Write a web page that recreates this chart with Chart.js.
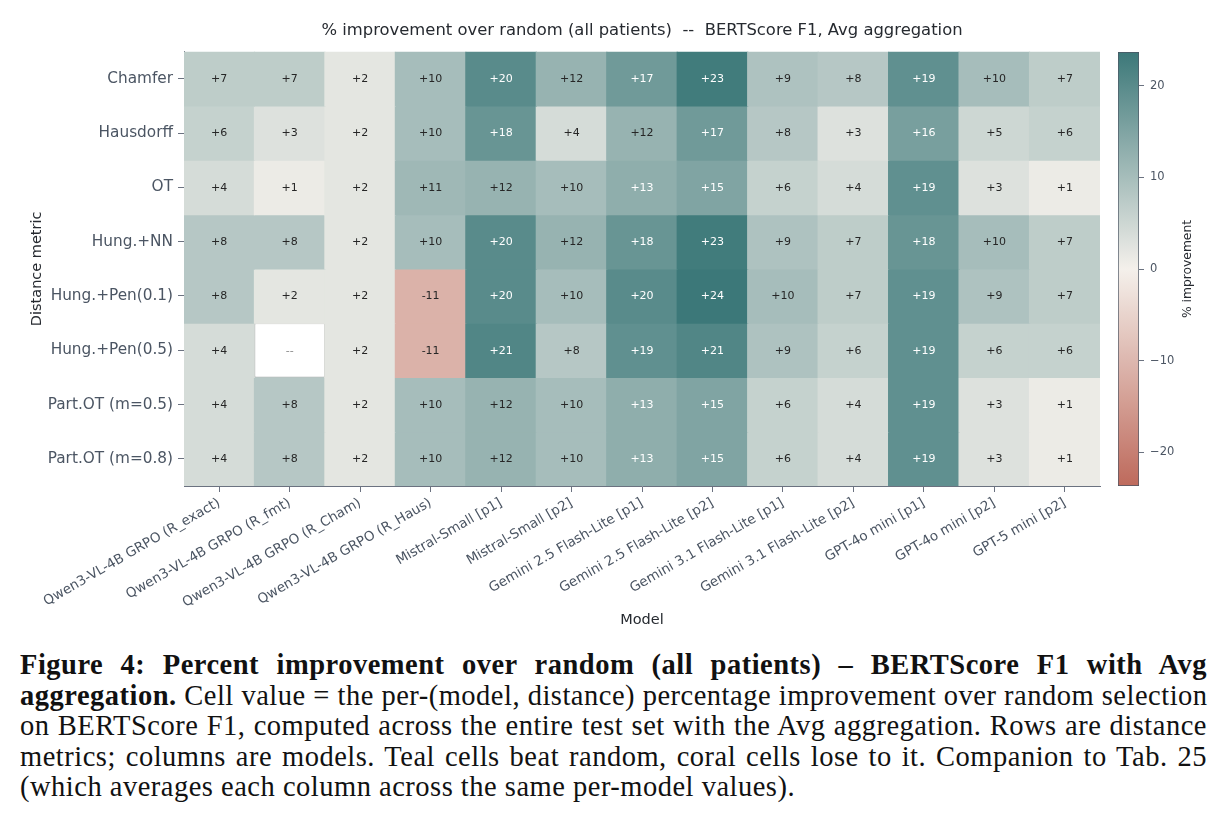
<!DOCTYPE html>
<html>
<head>
<meta charset="utf-8">
<script src="https://cdn.jsdelivr.net/npm/chart.js@4.4.0/dist/chart.umd.min.js"></script>
<style>
html,body{margin:0;padding:0;background:#fff;width:1223px;height:815px;overflow:hidden;}
#wrap{position:relative;width:1223px;height:815px;}
#heat{position:absolute;left:0;top:0;}
#cbar{position:absolute;left:1110px;top:0;}
#cap{position:absolute;left:20px;top:650px;width:1187px;font-family:"Liberation Serif","Times New Roman",serif;font-size:28.5px;letter-spacing:0.5px;line-height:30.5px;color:#111;}
.ln{text-align:justify;text-align-last:justify;white-space:nowrap;}
.last{text-align:left;text-align-last:left;}
</style>
</head>
<body>
<div id="wrap">
<canvas id="heat" width="1110" height="640"></canvas>
<canvas id="cbar" width="113" height="640"></canvas>
<div id="cap">
<div class="ln"><b>Figure 4: Percent improvement over random (all patients) – BERTScore F1 with Avg</b></div>
<div class="ln"><b>aggregation.</b> Cell value = the per-(model, distance) percentage improvement over random selection</div>
<div class="ln">on BERTScore F1, computed across the entire test set with the Avg aggregation. Rows are distance</div>
<div class="ln">metrics; columns are models. Teal cells beat random, coral cells lose to it. Companion to Tab. 25</div>
<div class="ln last">(which averages each column across the same per-model values).</div>
</div>
</div>
<script>
// ---- data ----
const models = [
  "Qwen3-VL-4B GRPO (R_exact)", "Qwen3-VL-4B GRPO (R_fmt)", "Qwen3-VL-4B GRPO (R_Cham)",
  "Qwen3-VL-4B GRPO (R_Haus)", "Mistral-Small [p1]", "Mistral-Small [p2]",
  "Gemini 2.5 Flash-Lite [p1]", "Gemini 2.5 Flash-Lite [p2]", "Gemini 3.1 Flash-Lite [p1]",
  "Gemini 3.1 Flash-Lite [p2]", "GPT-4o mini [p1]", "GPT-4o mini [p2]", "GPT-5 mini [p2]"
];
const metrics = ["Chamfer", "Hausdorff", "OT", "Hung.+NN", "Hung.+Pen(0.1)", "Hung.+Pen(0.5)", "Part.OT (m=0.5)", "Part.OT (m=0.8)"];

const rowChamfer   = [7, 7, 2, 10, 20, 12, 17, 23, 9, 8, 19, 10, 7];
const rowHausdorff = [6, 3, 2, 10, 18, 4, 12, 17, 8, 3, 16, 5, 6];
const rowOT        = [4, 1, 2, 11, 12, 10, 13, 15, 6, 4, 19, 3, 1];
const rowHungNN    = [8, 8, 2, 10, 20, 12, 18, 23, 9, 7, 18, 10, 7];
const rowHungPen01 = [8, 2, 2, -11, 20, 10, 20, 24, 10, 7, 19, 9, 7];
const rowHungPen05 = [4, null, 2, -11, 21, 8, 19, 21, 9, 6, 19, 6, 6];
const rowPartOT05  = [4, 8, 2, 10, 12, 10, 13, 15, 6, 4, 19, 3, 1];
const rowPartOT08  = [4, 8, 2, 10, 12, 10, 13, 15, 6, 4, 19, 3, 1];

const cbarTicks = [-20, -10, 0, 10, 20];
const vLimit = 23.7;

const values = [rowChamfer, rowHausdorff, rowOT, rowHungNN, rowHungPen01, rowHungPen05, rowPartOT05, rowPartOT08];

// ---- colour map ----
const NEG = [190, 106, 92], MID = [244, 240, 235], POS = [60, 120, 121];
function mix(a, b, t) { return a.map((x, i) => Math.round(x + (b[i] - x) * t)); }
function colorFor(v) {
  let t = Math.max(-1, Math.min(1, v / vLimit));
  const c = t >= 0 ? mix(MID, POS, t) : mix(MID, NEG, -t);
  return `rgb(${c[0]},${c[1]},${c[2]})`;
}

Chart.defaults.font.family = '"DejaVu Sans", sans-serif';
const TICK = '#4b5563', SPINE = '#6b7280', DARK = '#262a30';

const cellLabels = {
  id: 'cellLabels',
  afterDatasetsDraw(chart) {
    const ctx = chart.ctx;
    ctx.save();
    ctx.font = '11px "DejaVu Sans"';
    ctx.textAlign = 'center';
    ctx.textBaseline = 'middle';
    values.forEach((row, r) => {
      const meta = chart.getDatasetMeta(r);
      meta.data.forEach((bar, c) => {
        const v = row[c];
        const cy = (bar.y + bar.base) / 2;
        let txt, col;
        if (v === null) { txt = '--'; col = '#8a8a8a'; }
        else { txt = (v > 0 ? '+' : '') + v; col = v >= 13 ? '#ffffff' : '#262626'; }
        ctx.fillStyle = col;
        ctx.fillText(txt, bar.x, cy + 0.5);
      });
    });
    ctx.restore();
  }
};

const datasets = metrics.map((m, r) => ({
  label: m,
  data: values[r].map(() => [r - 0.5, r + 0.5]),
  backgroundColor: values[r].map(v => v === null ? '#ffffff' : colorFor(v)),
  borderColor: values[r].map(v => v === null ? '#bdbdbd' : 'rgba(0,0,0,0)'),
  borderWidth: values[r].map(v => v === null ? 1 : 0),
  inflateAmount: values[r].map(v => v === null ? 0 : 0.6),
  borderSkipped: false,
  grouped: false,
  barPercentage: 1,
  categoryPercentage: 1
}));

new Chart(document.getElementById('heat'), {
  type: 'bar',
  data: { labels: models, datasets },
  plugins: [cellLabels],
  options: {
    responsive: false,
    animation: false,
    layout: { padding: { left: 0, right: 10, top: 0, bottom: 0 } },
    plugins: {
      legend: { display: false },
      tooltip: { enabled: false },
      title: {
        display: true, fullSize: false,
        text: '% improvement over random (all patients)  --  BERTScore F1, Avg aggregation',
        color: DARK, font: { size: 16.4, weight: 'normal' },
        padding: { top: 21, bottom: 11 }
      }
    },
    scales: {
      x: {
        type: 'category', offset: true,
        grid: { display: true, drawOnChartArea: false, drawTicks: true, tickLength: 6, color: SPINE, offset: false },
        border: { display: true, color: SPINE },
        ticks: { minRotation: 30, maxRotation: 30, autoSkip: false, color: TICK, font: { size: 13.5 }, padding: 3 },
        title: { display: true, text: 'Model', color: DARK, font: { size: 14.5 }, padding: { top: 0, bottom: 11 } },
        afterFit(s) { s.height = 154; }
      },
      y: {
        type: 'linear', min: -0.5, max: 7.5, reverse: true,
        afterBuildTicks(s) { s.ticks = metrics.map((_, i) => ({ value: i })); },
        ticks: { callback: v => metrics[v], color: TICK, font: { size: 15.3 }, padding: 5 },
        grid: { drawOnChartArea: false, drawTicks: true, tickLength: 6, color: SPINE },
        border: { display: true, color: SPINE },
        title: { display: true, text: 'Distance metric', color: DARK, font: { size: 14.5 }, padding: { top: 29, bottom: 0 } },
        afterFit(s) { s.width = 184; }
      }
    }
  }
});

// ---- colour bar ----
const cbarLabel = {
  id: 'cbarLabel',
  afterDraw(chart) {
    const ctx = chart.ctx, a = chart.chartArea;
    ctx.save();
    ctx.font = '12.3px "DejaVu Sans"';
    ctx.fillStyle = DARK;
    ctx.textAlign = 'center';
    ctx.textBaseline = 'middle';
    ctx.translate(78, (a.top + a.bottom) / 2);
    ctx.rotate(-Math.PI / 2);
    ctx.fillText('% improvement', 0, 0);
    ctx.restore();
  }
};

new Chart(document.getElementById('cbar'), {
  type: 'bar',
  data: {
    labels: [''],
    datasets: [{
      data: [[-vLimit, vLimit]],
      backgroundColor(ctx) {
        const ch = ctx.chart, a = ch.chartArea;
        if (!a) return '#ccc';
        const y = ch.scales.y;
        const g = ch.ctx.createLinearGradient(0, y.getPixelForValue(-vLimit), 0, y.getPixelForValue(vLimit));
        for (let i = 0; i <= 20; i++) {
          const v = -vLimit + (2 * vLimit) * i / 20;
          g.addColorStop(i / 20, colorFor(v));
        }
        return g;
      },
      borderColor: '#4b5563', borderWidth: 1, borderSkipped: false,
      barPercentage: 1, categoryPercentage: 1
    }]
  },
  plugins: [cbarLabel],
  options: {
    responsive: false,
    animation: false,
    layout: { padding: { left: 8, right: 0, top: 52, bottom: 154 } },
    plugins: { legend: { display: false }, tooltip: { enabled: false } },
    scales: {
      x: { display: false, offset: true },
      y: {
        position: 'right', min: -vLimit, max: vLimit,
        afterBuildTicks(s) { s.ticks = cbarTicks.map(v => ({ value: v })); },
        ticks: { callback: v => v < 0 ? '\u2212' + Math.abs(v) : String(v), color: TICK, font: { size: 11.5 }, padding: 6 },
        grid: { drawOnChartArea: false, drawTicks: true, tickLength: 5, color: SPINE },
        border: { display: false },
        afterFit(s) { s.width = 84; }
      }
    }
  }
});
</script>
</body>
</html>
